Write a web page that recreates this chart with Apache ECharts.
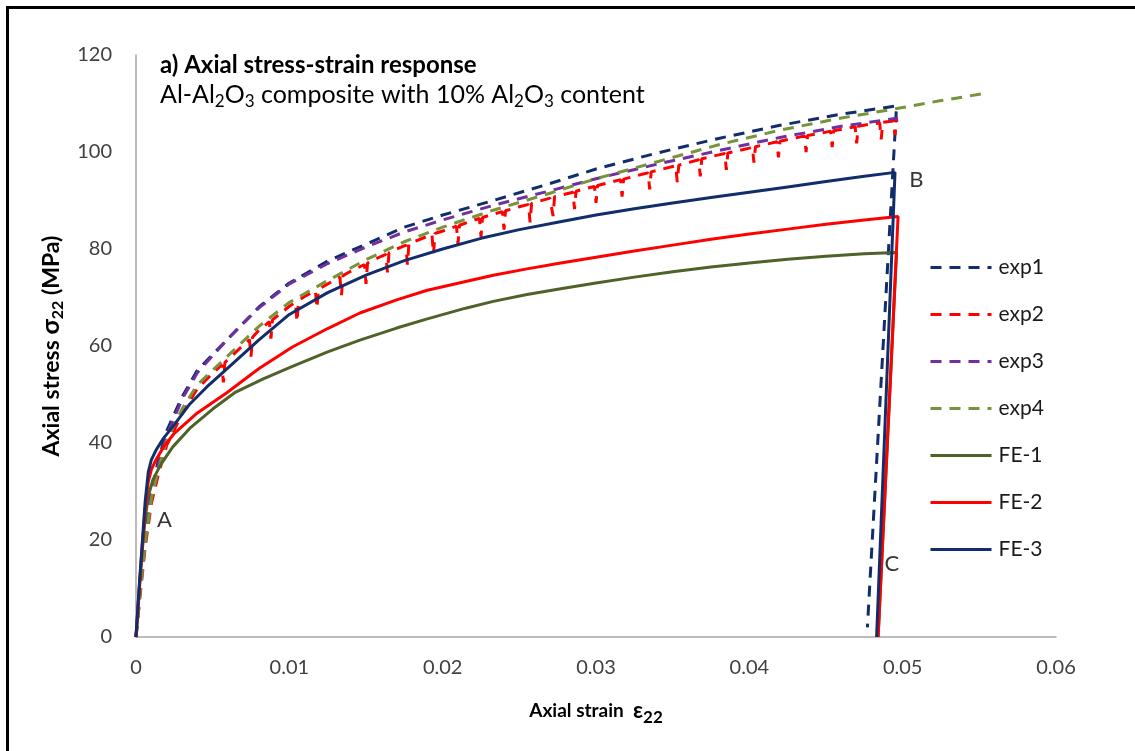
<!DOCTYPE html>
<html>
<head>
<meta charset="utf-8">
<script src="https://cdn.jsdelivr.net/npm/echarts@6/dist/echarts.min.js"></script>
<style>
  html, body { margin: 0; padding: 0; background: #fff; }
  #chart { width: 1135px; height: 751px; }
</style>
</head>
<body>
<div id="chart"></div>
<script>
// Axis ticks
const strainTicks = [0, 0.01, 0.02, 0.03, 0.04, 0.05, 0.06];
const stressTicks = [0, 20, 40, 60, 80, 100, 120];

// Experimental curves (strain, stress in MPa)
const exp1Strain = [0, 0.0003, 0.0006, 0.001, 0.0015, 0.002, 0.003, 0.004, 0.006, 0.008, 0.010, 0.0125, 0.015, 0.0175, 0.020, 0.0233, 0.027, 0.030, 0.034, 0.038, 0.042, 0.046, 0.0496, 0.0477];
const exp1Stress = [0, 11, 21, 30, 37, 42.5, 49.5, 55, 61.5, 68, 73, 77.5, 81, 84.5, 87, 90, 93.5, 96.5, 99.8, 102.8, 105.5, 107.8, 109.5, 2];

// exp2 is the noisy record: short downward spikes along the curve
const exp2Strain = [
  0, 0.0003, 0.0006, 0.001, 0.0015, 0.002, 0.003, 0.004, 0.005,
  0.0056, 0.0057, 0.0058, 0.006, 0.007,
  0.0074, 0.0075, 0.0076, 0.008,
  0.0087, 0.0088, 0.0089, 0.010,
  0.0104, 0.0105, 0.0106, 0.011,
  0.0117, 0.0118, 0.0119, 0.013,
  0.0133, 0.0134, 0.0135, 0.014,
  0.0149, 0.015, 0.0151, 0.016,
  0.0163, 0.0164, 0.0165, 0.017,
  0.0176, 0.0177, 0.0178, 0.019,
  0.0193, 0.0194, 0.0195, 0.020,
  0.0209, 0.021, 0.0211, 0.022,
  0.0224, 0.0225, 0.0226, 0.023,
  0.0239, 0.024, 0.0241, 0.025,
  0.0256, 0.0257, 0.0258, 0.027,
  0.0271, 0.0272, 0.0273,
  0.0285, 0.0286, 0.0287, 0.029,
  0.0299, 0.030, 0.0301, 0.031,
  0.0316, 0.0317, 0.0318, 0.033,
  0.0334, 0.0335, 0.0336, 0.035,
  0.0352, 0.0353, 0.0354,
  0.0367, 0.0368, 0.0369, 0.038,
  0.0384, 0.0385, 0.0386, 0.040,
  0.0402, 0.0403, 0.0404,
  0.0418, 0.0419, 0.042, 0.043,
  0.0436, 0.0437, 0.0438, 0.045,
  0.0453, 0.0454, 0.0455,
  0.0469, 0.047, 0.0471, 0.048,
  0.0485, 0.0486, 0.0487,
  0.0494, 0.0495, 0.0496, 0.0497
];
const exp2Stress = [
  0, 9.5, 18.5, 27.5, 34, 39.5, 46, 51.2, 54.4,
  56.1, 52.5, 56.6, 57.2, 60.2,
  61.3, 57.8, 61.8, 63.2,
  65, 61.5, 65.4, 68.2,
  69, 65, 69.4, 70.2,
  71.4, 67.8, 71.7, 73.7,
  74.2, 70.5, 74.5, 75.4,
  76.8, 72.8, 77.1, 78.5,
  78.9, 75.2, 79.2, 80,
  80.8, 76.8, 81.1, 82.6,
  83, 79, 83.2, 83.7,
  84.7, 81, 84.9, 85.9,
  86.3, 82.5, 86.5, 86.9,
  87.7, 84, 87.9, 88.7,
  89.2, 85.5, 89.4, 90.5,
  90.6, 86.8, 90.8,
  91.7, 88.2, 91.9, 92.2,
  92.9, 89.5, 93.1, 93.8,
  94.3, 90.8, 94.4, 95.4,
  95.7, 92.3, 95.9, 97,
  97.2, 93.8, 97.3,
  98.4, 95, 98.6, 99.4,
  99.7, 96.3, 99.8, 100.8,
  101, 97.8, 101.1,
  102.1, 98.9, 102.2, 102.9,
  103.3, 100, 103.4, 104.1,
  104.3, 101, 104.4,
  105.2, 101.8, 105.3, 105.8,
  106, 102.6, 106.1,
  106.4, 103.5, 106.5, 106.6
];

const exp3Strain = [0, 0.0003, 0.0006, 0.001, 0.0015, 0.002, 0.003, 0.004, 0.006, 0.008, 0.010, 0.0125, 0.015, 0.0175, 0.020, 0.0233, 0.027, 0.030, 0.034, 0.038, 0.042, 0.046, 0.0497];
const exp3Stress = [0, 11, 20, 29, 36, 41.5, 49, 54.5, 61.5, 67.8, 72.8, 77, 80.4, 83.5, 86, 89, 92, 94.5, 97.5, 100.3, 103, 105.3, 107];

const exp4Strain = [0, 0.0003, 0.0006, 0.001, 0.0015, 0.002, 0.003, 0.004, 0.006, 0.008, 0.010, 0.0125, 0.015, 0.0175, 0.020, 0.0233, 0.027, 0.030, 0.034, 0.038, 0.042, 0.046, 0.0497, 0.0525, 0.0556];
const exp4Stress = [0, 10, 19.5, 28.5, 35, 40.5, 47, 52, 58, 64, 69, 73.5, 77.8, 81.5, 84.5, 88, 91.5, 94.5, 98, 101.5, 104.5, 107, 109, 110.6, 112.2];

// Finite element predictions, each with its unloading branch at the end
const fe1Strain = [0, 0.0002, 0.0004, 0.0006, 0.0008, 0.0011, 0.0016, 0.0024, 0.0035, 0.005, 0.0065, 0.0083, 0.0102, 0.0125, 0.0146, 0.017, 0.019, 0.0215, 0.0233, 0.0255, 0.0277, 0.030, 0.0325, 0.035, 0.0375, 0.040, 0.0425, 0.045, 0.0475, 0.0496, 0.0484];
const fe1Stress = [0, 9, 17.5, 24.5, 29, 32.4, 35.5, 39.2, 43, 47, 50.5, 53.2, 55.8, 58.8, 61.2, 63.7, 65.6, 67.8, 69.2, 70.6, 71.8, 73, 74.2, 75.3, 76.3, 77.1, 77.9, 78.5, 79, 79.3, 0];

const fe2Strain = [0, 0.0002, 0.0004, 0.0006, 0.0008, 0.001, 0.0013, 0.0018, 0.0025, 0.004, 0.0059, 0.008, 0.0102, 0.0125, 0.0146, 0.017, 0.019, 0.0215, 0.0233, 0.0255, 0.0277, 0.030, 0.0325, 0.035, 0.0375, 0.040, 0.0425, 0.045, 0.0475, 0.0497, 0.0484];
const fe2Stress = [0, 9.5, 18.5, 26.5, 32, 34.5, 36.5, 39.2, 42, 46.2, 50.3, 55.3, 59.8, 63.6, 66.8, 69.5, 71.5, 73.3, 74.6, 75.9, 77.1, 78.3, 79.6, 80.8, 82, 83.1, 84.1, 85.1, 86, 86.7, 0];

const fe3Strain = [0, 0.0002, 0.0004, 0.0006, 0.0008, 0.001, 0.0013, 0.0018, 0.0025, 0.0035, 0.0046, 0.006, 0.008, 0.010, 0.0125, 0.015, 0.0175, 0.020, 0.0225, 0.025, 0.0275, 0.030, 0.0325, 0.035, 0.0375, 0.040, 0.0425, 0.045, 0.0475, 0.0495, 0.0483];
const fe3Stress = [0, 10, 19, 28, 34, 36.5, 38.5, 41, 43.8, 48, 51.5, 55.5, 61.2, 66.5, 71, 74.6, 77.6, 80, 82.2, 84, 85.5, 87, 88.3, 89.5, 90.6, 91.7, 92.8, 93.9, 95, 95.8, 0];

// Point labels A, B, C
const noteText = ['A', 'B', 'C'];
const noteStrain = [0.00186, 0.0509, 0.0493];
const noteStress = [24.1, 94.2, 15.1];

const zip = (xs, ys) => xs.map((x, i) => [x, ys[i]]);

const FONT = 'Lato, "DejaVu Sans", sans-serif';
const NAVY = '#112d6b';
const RED = '#ff0000';
const PURPLE = '#7030a0';
const LIGHT_GREEN = '#77933c';
const OLIVE = '#4f6228';
const DASH = [11, 8];

function lineSeries(name, xs, ys, color, dashed) {
  return {
    name: name,
    type: 'line',
    data: zip(xs, ys),
    symbol: 'none',
    showSymbol: false,
    smooth: false,
    animation: false,
    lineStyle: { color: color, width: 3, type: dashed ? DASH : 'solid', cap: 'butt' },
    itemStyle: { color: color }
  };
}

const chart = echarts.init(document.getElementById('chart'), null, { renderer: 'canvas' });

const option = {
  backgroundColor: '#ffffff',
  animation: false,
  title: [
    {
      text: 'a) Axial stress-strain response',
      left: 160, top: 53, padding: 0,
      textStyle: { fontFamily: FONT, fontSize: 24, fontWeight: 'bold', color: '#000' }
    },
    {
      text: 'Al-Al{s|2}O{s|3} composite with 10% Al{s|2}O{s|3} content',
      left: 160, top: 80, padding: 0,
      textStyle: {
        fontFamily: FONT, fontSize: 25, fontWeight: 'normal', color: '#000', lineHeight: 30,
        rich: { s: { fontFamily: FONT, fontSize: 17, lineHeight: 30, verticalAlign: 'bottom', color: '#000' } }
      }
    }
  ],
  legend: {
    orient: 'vertical',
    left: 929, top: 257, padding: 0,
    itemWidth: 61, itemHeight: 20, itemGap: 26,
    data: ['exp1', 'exp2', 'exp3', 'exp4', 'FE-1', 'FE-2', 'FE-3'],
    itemStyle: { opacity: 0 },
    lineStyle: { width: 3 },
    textStyle: { fontFamily: FONT, fontSize: 21, color: '#1a1a1a', padding: [0, 0, 0, 2] }
  },
  grid: { left: 136, right: 79, top: 55, bottom: 114, containLabel: false },
  xAxis: {
    type: 'value',
    min: strainTicks[0], max: strainTicks[strainTicks.length - 1], interval: 0.01,
    name: 'Axial strain  {g|ε}{s|22}',
    nameLocation: 'middle', nameGap: 59,
    nameTextStyle: {
      fontFamily: FONT, fontSize: 19, fontWeight: 'bold', color: '#000', lineHeight: 30,
      rich: {
        g: { fontFamily: FONT, fontSize: 22, color: '#000', lineHeight: 30 },
        s: { fontFamily: FONT, fontSize: 17, color: '#000', lineHeight: 30, verticalAlign: 'bottom' }
      }
    },
    axisLine: { show: true, lineStyle: { color: '#a6a6a6', width: 1.5 } },
    axisTick: { show: false },
    splitLine: { show: false },
    axisLabel: {
      fontFamily: FONT, fontSize: 20, color: '#404040', margin: 21,
      formatter: v => String(strainTicks.find(t => Math.abs(t - v) < 1e-9) ?? v)
    }
  },
  yAxis: {
    type: 'value',
    min: stressTicks[0], max: stressTicks[stressTicks.length - 1], interval: 20,
    name: 'Axial stress {g|σ}{s|22} (MPa)',
    nameLocation: 'middle', nameGap: 49, nameRotate: 90,
    nameTextStyle: {
      fontFamily: FONT, fontSize: 23, fontWeight: 'bold', color: '#000', lineHeight: 30,
      rich: {
        g: { fontFamily: FONT, fontSize: 25, fontWeight: 'bold', color: '#000', lineHeight: 30 },
        s: { fontFamily: FONT, fontSize: 16, fontWeight: 'bold', color: '#000', lineHeight: 30, verticalAlign: 'bottom' }
      }
    },
    axisLine: { show: true, lineStyle: { color: '#a6a6a6', width: 1.5 } },
    axisTick: { show: false },
    splitLine: { show: false },
    axisLabel: { fontFamily: FONT, fontSize: 20, color: '#404040', margin: 24 }
  },
  series: [
    lineSeries('exp1', exp1Strain, exp1Stress, NAVY, true),
    lineSeries('exp2', exp2Strain, exp2Stress, RED, true),
    lineSeries('exp3', exp3Strain, exp3Stress, PURPLE, true),
    lineSeries('exp4', exp4Strain, exp4Stress, LIGHT_GREEN, true),
    lineSeries('FE-1', fe1Strain, fe1Stress, OLIVE, false),
    lineSeries('FE-2', fe2Strain, fe2Stress, RED, false),
    lineSeries('FE-3', fe3Strain, fe3Stress, NAVY, false),
    {
      name: 'notes',
      type: 'scatter',
      symbolSize: 1,
      itemStyle: { color: 'rgba(0,0,0,0)' },
      silent: true,
      data: noteText.map((t, i) => ({ value: [noteStrain[i], noteStress[i]], name: t })),
      label: {
        show: true, position: 'inside',
        formatter: p => p.name,
        fontFamily: FONT, fontSize: 22, color: '#000'
      }
    }
  ],
  graphic: [
    {
      type: 'polyline',
      silent: true,
      shape: { points: [[7.5, 751], [7.5, 7.5], [1135, 7.5]] },
      style: { stroke: '#000', lineWidth: 3, fill: null }
    }
  ]
};

chart.setOption(option);
</script>
</body>
</html>
